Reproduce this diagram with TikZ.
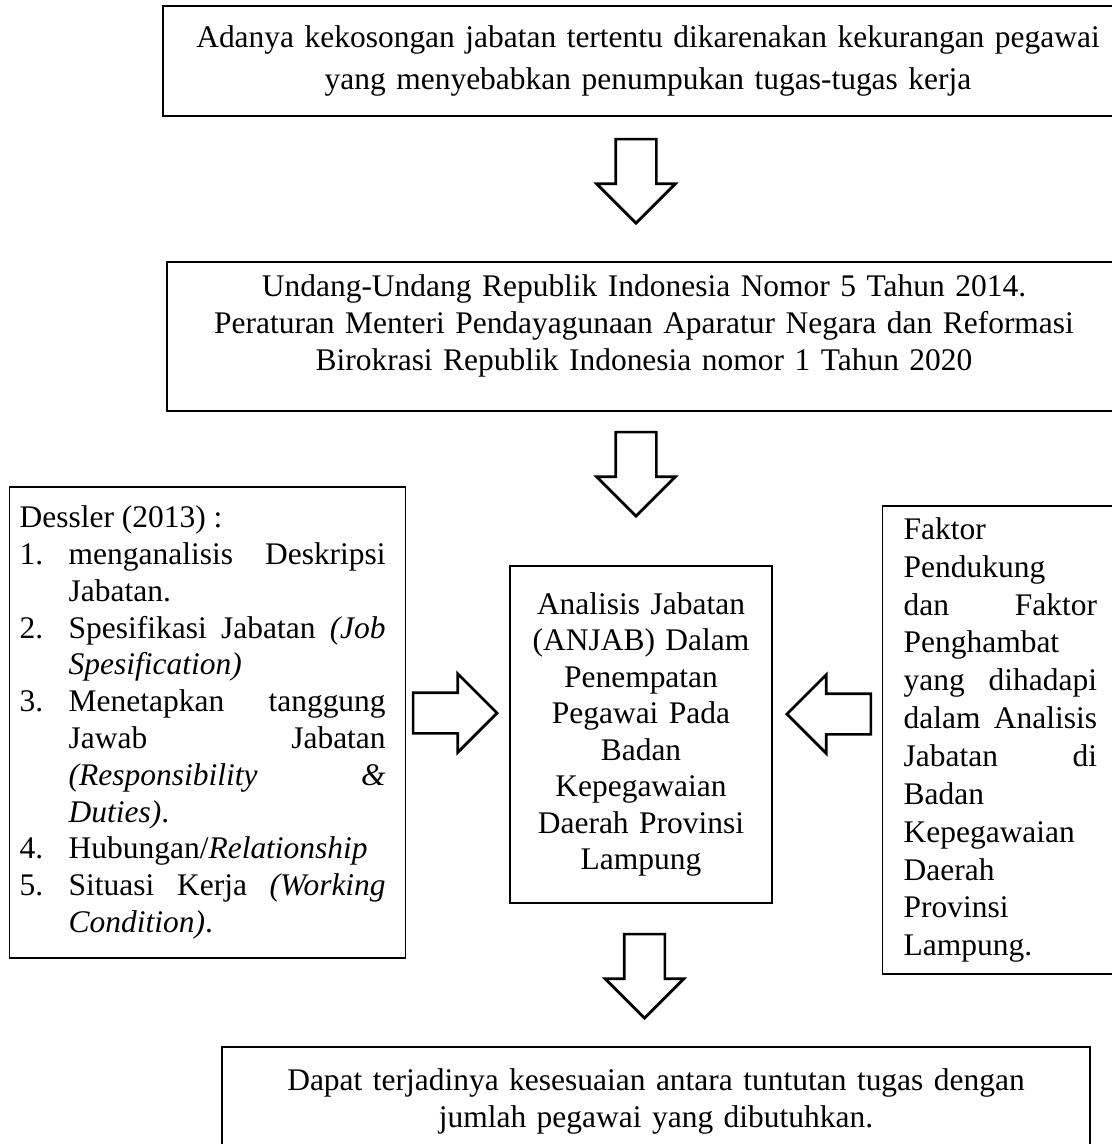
\documentclass[tikz,border=0pt]{standalone}
\usepackage{fontspec}
\setmainfont{Liberation Serif}
\usetikzlibrary{shapes.arrows}
\hbadness=10000
\newcommand\butir[1]{\par\hangindent=18.4pt\hangafter=1\noindent\makebox[18.4pt][l]{#1}}

\begin{document}
\begin{tikzpicture}[
  x=0.375pt, y=-0.375pt,
  kotak/.style={draw, line width=0.5pt, inner sep=0pt, font=\fontsize{11.8}{13.8}\selectfont},
  panah/.style={single arrow, draw, line width=1pt, inner xsep=0pt, inner ysep=7.125pt, anchor=tip,
    minimum height=31.5pt, single arrow head extend=7.125pt, single arrow tip angle=90}
]
\clip (0,0) rectangle (1112,1144);

\node[kotak, minimum width=363.75pt, minimum height=41.25pt, text width=350pt, align=center,
  font=\fontsize{11.8}{15.4}\selectfont] (masalah) at (648,61)
  {Adanya kekosongan jabatan tertentu dikarenakan kekurangan pegawai\\
   yang menyebabkan penumpukan tugas-tugas kerja};

\node[kotak, minimum width=357.75pt, minimum height=55.875pt, text width=345pt, align=center] (regulasi) at (644,336.5)
  {Undang-Undang Republik Indonesia Nomor 5 Tahun 2014.\\
   Peraturan Menteri Pendayagunaan Aparatur Negara dan Reformasi\\
   Birokrasi Republik Indonesia nomor 1 Tahun 2020\rule[-10.5pt]{0pt}{10.5pt}};

\node[kotak, anchor=west, inner xsep=3.75pt, text width=141pt, minimum height=176.625pt, align=justify] (dessler) at (9,722.5)
  {\rightskip=3.75pt Dessler (2013) :
   \butir{1.}menganalisis Deskripsi\linebreak Jabatan.
   \butir{2.}Spesifikasi Jabatan \textit{(Job}\linebreak\textit{Spesification)}
   \butir{3.}Menetapkan tanggung\linebreak Jawab Jabatan\linebreak\textit{(Responsibility \&}\linebreak\textit{Duties)}.
   \butir{4.}Hubungan/\textit{Relationship}
   \butir{5.}Situasi Kerja \textit{(Working}\linebreak\textit{Condition)}.\par};

\node[kotak, minimum width=98.25pt, minimum height=126.375pt, text width=90pt, align=center,
  font=\fontsize{11.8}{13.7}\selectfont] (anjab) at (641,734.5)
  {Analisis Jabatan\\ (ANJAB) Dalam\\ Penempatan\\ Pegawai Pada\\ Badan\\ Kepegawaian\\ Daerah Provinsi\\ Lampung};

\node[kotak, anchor=west, inner xsep=7.875pt, text width=72.5pt, minimum height=175.5pt, align=justify,
  font=\fontsize{11.8}{14.2}\selectfont] (faktor) at (882,740)
  {Faktor\\ Pendukung\\ dan Faktor\linebreak Penghambat\\ yang dihadapi\linebreak dalam Analisis\linebreak
   Jabatan di\linebreak Badan\\ Kepegawaian\\ Daerah\\ Provinsi\\ Lampung.};

\node[kotak, minimum width=325.5pt, minimum height=40.5pt, text width=300pt, align=center,
  font=\fontsize{11.8}{13.9}\selectfont] (hasil) at (656,1101)
  {Dapat terjadinya kesesuaian antara tuntutan tugas dengan\\
   jumlah pegawai yang dibutuhkan.};

% panah besar
\node[panah, rotate=-90] (p1) at (636,225) {};
\node[panah, rotate=-90] (p2) at (636,518) {};
\node[panah] (p3) at (499,713) {};
\node[panah, rotate=180] (p4) at (785,714) {};
\node[panah, rotate=-90] (p5) at (644.5,1020) {};
\end{tikzpicture}
\end{document}
